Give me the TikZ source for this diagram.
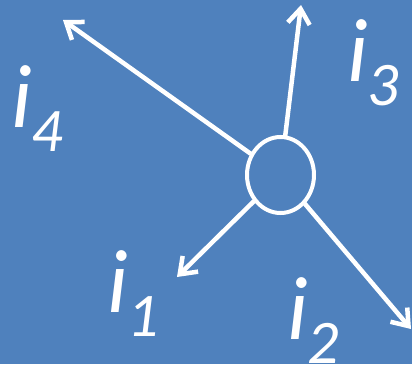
\documentclass[tikz,border=0pt]{standalone}
\usepackage{fontspec}
\setmainfont{Carlito}
\usetikzlibrary{arrows.meta,shapes.geometric}
\definecolor{SlideBlue}{RGB}{79,129,189}
\tikzset{
  junction/.style={draw=white,line width=4pt,ellipse,minimum width=67pt,minimum height=76pt,inner sep=0pt},
  current/.style={-{Straight Barb[length=15pt,width=22pt]},line width=4.5pt,draw=white,line cap=round},
  lbl/.style={anchor=base west,inner sep=0pt,text=white,font=\fontsize{90}{90}\selectfont\itshape},
}
\newcommand{\isub}[1]{\raisebox{-24pt}{\fontsize{62}{62}\selectfont #1}}

\begin{document}
\begin{tikzpicture}[x=1pt,y=-1pt]
    \useasboundingbox (0,0) rectangle (412,364);
    \clip (0,0) rectangle (412,364);
    \fill[SlideBlue] (0,0) rectangle (412,364);
    \node[junction] (jn) at (280.5,175) {};
    % arrow tips
    \coordinate (t1) at (177,277);
    \coordinate (t2) at (411,329);
    \coordinate (t3) at (301,5);
    \coordinate (t4) at (63,20);
    \draw[current] (jn) -- (t1);
    \draw[current] (jn) -- (t2);
    \draw[current] (jn) -- (t3);
    \draw[current] (jn) -- (t4);
    % labels
    \node[lbl] (l1) at (107,312) {i\isub{1}};
    \node[lbl] (l2) at (287,339) {i\isub{2}};
    \node[lbl] (l3) at (347,81) {i\isub{3}};
    \node[lbl] (l4) at (11,127) {i\isub{4}};
\end{tikzpicture}
\end{document}
